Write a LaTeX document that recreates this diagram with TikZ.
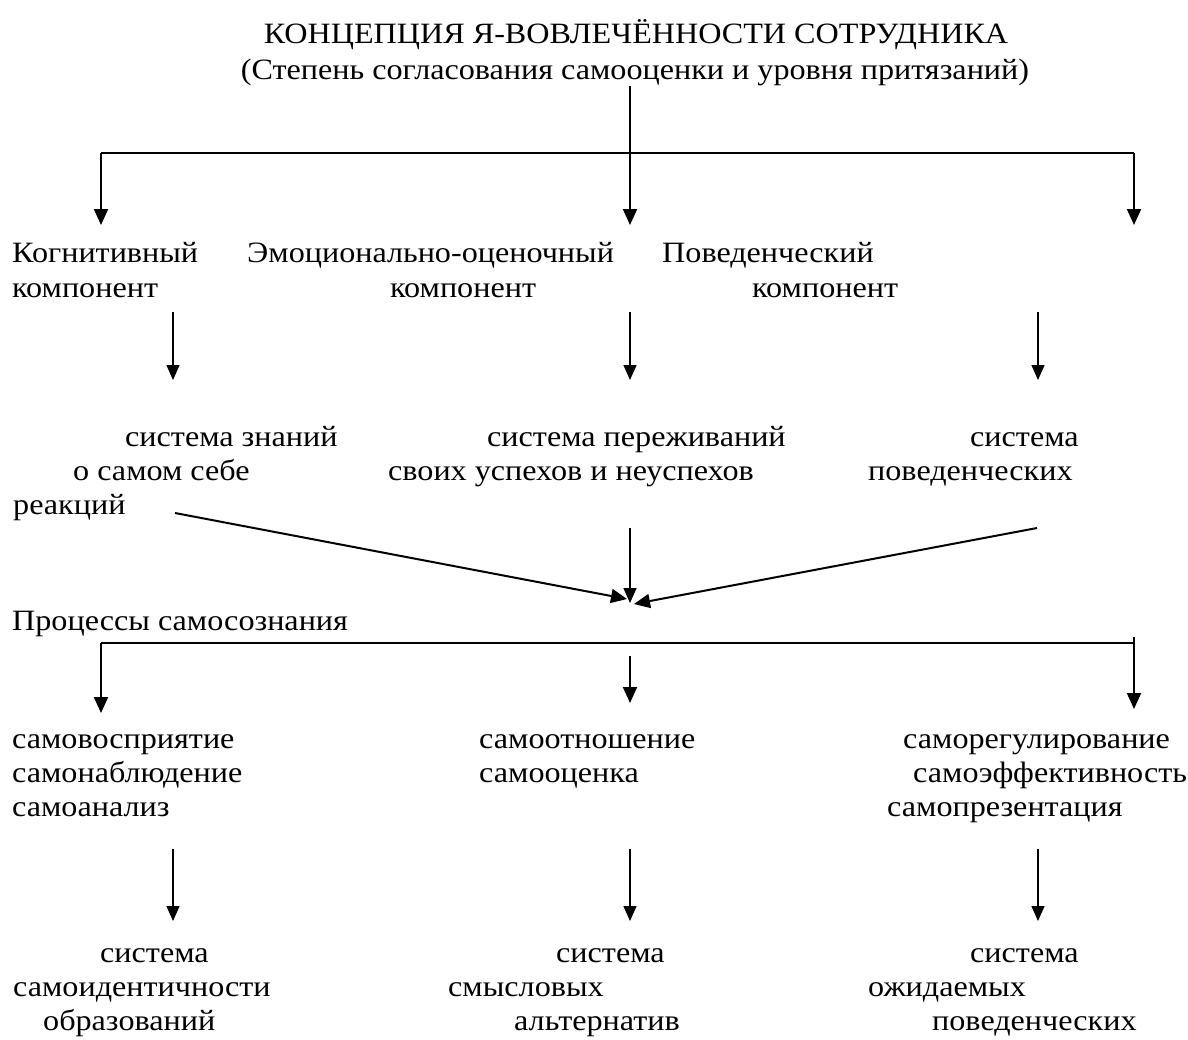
\documentclass[tikz,border=0pt]{standalone}
\usepackage{fontspec}
\setmainfont[FakeStretch=1.09]{Liberation Serif}
\usetikzlibrary{arrows.meta}

\tikzset{
  lbl/.style={anchor=base west, inner sep=0pt, font=\fontsize{29.5}{35}\selectfont},
  ttl/.style={anchor=base, inner sep=0pt, font=\fontsize{29.5}{35}\selectfont},
  arr/.style={-{Triangle[width=14pt,length=16pt]}, line width=2pt},
  tarr/.style={-{Triangle[width=13pt,length=15pt]}, line width=1.4pt},
  bar/.style={line width=2pt},
}

\begin{document}
\begin{tikzpicture}[x=1pt,y=-1pt]
  \useasboundingbox (0,0) rectangle (1188,1039);
  % title
  \node[ttl] (title) at (636,43) {КОНЦЕПЦИЯ Я-ВОВЛЕЧЁННОСТИ СОТРУДНИКА};
  \node[ttl] (subtitle) at (635,79) {(Степень согласования самооценки и уровня притязаний)};
  % first fork
  \coordinate (top) at (630,86);
  \coordinate (forkL) at (101,153);
  \coordinate (forkM) at (630,153);
  \coordinate (forkR) at (1134,153);
  \coordinate (kogA) at (101,225);
  \coordinate (emoA) at (630,225);
  \coordinate (povA) at (1134,225);
  \draw[line width=1.4pt] (top) -- (forkM);
  \draw[bar] (forkL) -- (forkR);
  \draw[arr] (forkL) -- (kogA);
  \draw[arr] (forkM) -- (emoA);
  \draw[arr] (forkR) -- (povA);
  % components
  \node[lbl] (kog1) at (12,262) {Когнитивный};
  \node[lbl] (kog2) at (12,297) {компонент};
  \node[lbl] (emo1) at (247,262) {Эмоционально-оценочный};
  \node[lbl] (emo2) at (390,297) {компонент};
  \node[lbl] (pov1) at (662,262) {Поведенческий};
  \node[lbl] (pov2) at (752,297) {компонент};
  \foreach \n/\x in {k/173,e/630,p/1038}{
    \coordinate (\n s) at (\x,312);
    \coordinate (\n e) at (\x,380);
    \draw[tarr] (\n s) -- (\n e);
  }
  % systems
  \node[lbl] (zn1) at (125,446) {система знаний};
  \node[lbl] (zn2) at (73,480) {о самом себе};
  \node[lbl] (zn3) at (13,514) {реакций};
  \node[lbl] (per1) at (487,446) {система переживаний};
  \node[lbl] (per2) at (388,480) {своих успехов и неуспехов};
  \node[lbl] (beh1) at (970,446) {система};
  \node[lbl] (beh2) at (868,480) {поведенческих};
  % converging arrows
  \coordinate (fromL) at (175,513);
  \coordinate (fromM) at (630,528);
  \coordinate (fromR) at (1037,528);
  \coordinate (meet) at (630,603);
  \draw[arr] (fromL) -- ([xshift=-3pt,yshift=4pt]meet);
  \draw[tarr] (fromM) -- (meet);
  \draw[arr] (fromR) -- ([xshift=4pt,yshift=-1pt]meet);
  % processes
  \node[lbl] (proc) at (12,630) {Процессы самосознания};
  \coordinate (barL) at (101,643);
  \coordinate (barR) at (1134,643);
  \coordinate (tickR) at (1134,637);
  \draw[bar] (barL) -- (barR);
  \draw[arr] (barL) -- (101,713);
  \draw[arr] (tickR) -- (1134,709);
  \coordinate (midS) at (630,656);
  \coordinate (midE) at (630,703);
  \draw[arr] (midS) -- (midE);
  \node[lbl] (sv1) at (12,748) {самовосприятие};
  \node[lbl] (sv2) at (12,782) {самонаблюдение};
  \node[lbl] (sv3) at (12,816) {самоанализ};
  \node[lbl] (so1) at (479,748) {самоотношение};
  \node[lbl] (so2) at (479,782) {самооценка};
  \node[lbl] (sr1) at (903,748) {саморегулирование};
  \node[lbl] (sr2) at (913,782) {самоэффективность};
  \node[lbl] (sr3) at (887,816) {самопрезентация};
  \foreach \n/\x in {a/173,b/630,c/1038}{
    \coordinate (\n s) at (\x,849);
    \coordinate (\n e) at (\x,921);
    \draw[tarr] (\n s) -- (\n e);
  }
  % results
  \node[lbl] (id1) at (100,962) {система};
  \node[lbl] (id2) at (13,996) {самоидентичности};
  \node[lbl] (id3) at (43,1030) {образований};
  \node[lbl] (sm1) at (556,962) {система};
  \node[lbl] (sm2) at (448,996) {смысловых};
  \node[lbl] (sm3) at (514,1030) {альтернатив};
  \node[lbl] (oz1) at (970,962) {система};
  \node[lbl] (oz2) at (868,996) {ожидаемых};
  \node[lbl] (oz3) at (932,1030) {поведенческих};
\end{tikzpicture}
\end{document}
